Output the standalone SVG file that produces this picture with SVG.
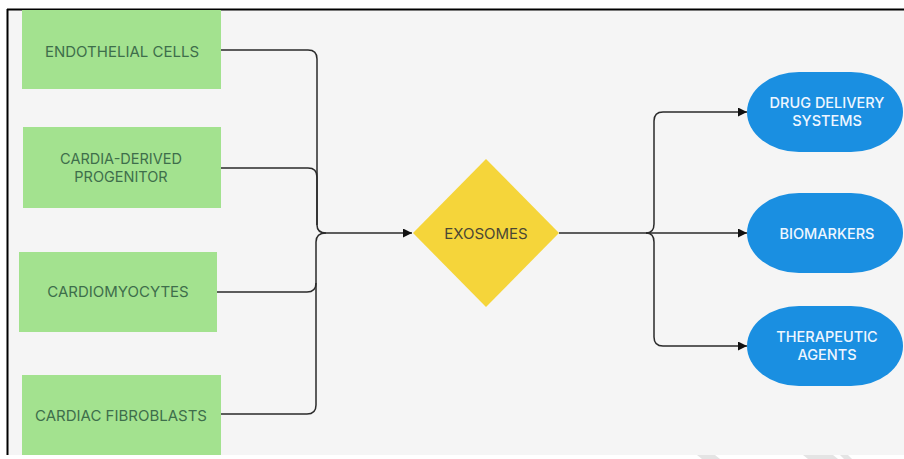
<svg xmlns="http://www.w3.org/2000/svg" width="904" height="459" viewBox="0 0 904 459">
  <defs>
    <marker id="arrow" viewBox="0 0 10 10" refX="10" refY="5" markerWidth="10" markerHeight="9" markerUnits="userSpaceOnUse" orient="auto">
      <path d="M0,0 L10,5 L0,10 Z" fill="#111"/>
    </marker>
  </defs>
  <style>
    .source rect { fill: #a3e28f; }
    .source text { font-family: Inter, "Open Sans", "Liberation Sans", sans-serif; font-size: 15px; fill: #3e6e4b; text-anchor: middle; }
    .source text.two { font-size: 14.5px; }
    .hub polygon { fill: #f5d53a; }
    .hub text { font-family: Inter, "Open Sans", "Liberation Sans", sans-serif; font-size: 15px; fill: #4a4734; text-anchor: middle; }
    .target rect { fill: #1a8fe1; }
    .target text { font-family: Inter, "Open Sans", "Liberation Sans", sans-serif; font-size: 14.5px; font-weight: 500; fill: #eef6ff; text-anchor: middle; }
    .links path { fill: none; stroke: #2a2a2a; stroke-width: 1.5; }
    .links path.to { marker-end: url(#arrow); }
  </style>

  <!-- canvas and frame -->
  <rect x="0" y="0" width="904" height="459" fill="#ffffff"/>
  <rect x="8" y="10" width="896" height="445" fill="#f5f5f5"/>
  <path d="M7,9.5 H904 M7.5,9 V455" stroke="#000" stroke-width="2" fill="none"/>
  <g fill="#e4e4e4">
    <polygon points="697,455 715,455 720,459 702,459"/>
    <polygon points="803,455 833,455 838,459 808,459"/>
    <polygon points="840,455 848,455 852,459 844,459"/>
  </g>

  <!-- source cell types -->
  <g id="endothelial-cells" class="source">
    <rect x="22" y="10" width="199" height="79"/>
    <text x="122" y="57">ENDOTHELIAL CELLS</text>
  </g>
  <g id="cardia-derived-progenitor" class="source">
    <rect x="23" y="127" width="198" height="81"/>
    <text class="two" x="121" y="164">CARDIA-DERIVED</text>
    <text class="two" x="121" y="182">PROGENITOR</text>
  </g>
  <g id="cardiomyocytes" class="source">
    <rect x="19" y="252" width="198" height="80"/>
    <text x="118" y="297">CARDIOMYOCYTES</text>
  </g>
  <g id="cardiac-fibroblasts" class="source">
    <rect x="22" y="375" width="199" height="80"/>
    <text x="121" y="421">CARDIAC FIBROBLASTS</text>
  </g>

  <!-- central node -->
  <g id="exosomes" class="hub">
    <polygon points="486,159 559,233 486,307 413,233"/>
    <text x="486" y="239">EXOSOMES</text>
  </g>

  <!-- applications -->
  <g id="drug-delivery-systems" class="target">
    <rect x="747" y="72" width="156" height="80" rx="52" ry="40"/>
    <text x="827" y="108">DRUG DELIVERY</text>
    <text x="827" y="126">SYSTEMS</text>
  </g>
  <g id="biomarkers" class="target">
    <rect x="747" y="193" width="156" height="80" rx="52" ry="40"/>
    <text x="827" y="239">BIOMARKERS</text>
  </g>
  <g id="therapeutic-agents" class="target">
    <rect x="747" y="306" width="156" height="80" rx="52" ry="40"/>
    <text x="827" y="342">THERAPEUTIC</text>
    <text x="827" y="360">AGENTS</text>
  </g>

  <!-- connectors -->
  <g id="connectors" class="links">
    <path d="M221,50 H308 Q317,50 317,59 V225 Q317,233 326,233"/>
    <path d="M221,168 H308 Q317,168 317,177 V225"/>
    <path d="M217,292 H307 Q316,292 316,283 V242 Q316,233 326,233"/>
    <path d="M221,414 H307 Q316,414 316,405 V283"/>
    <path class="to" d="M326,233 H412"/>
    <path class="to" d="M559,233 H747"/>
    <path class="to" d="M646,233 Q654,233 654,224 V121 Q654,112 663,112 H747"/>
    <path class="to" d="M646,233 Q654,233 654,242 V337 Q654,346 663,346 H747"/>
  </g>
</svg>
